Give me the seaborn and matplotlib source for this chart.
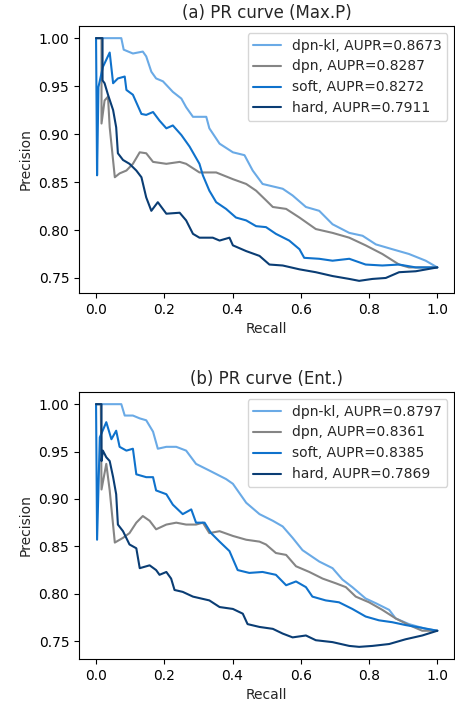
import pandas as pd
import matplotlib
matplotlib.use("Agg")
import matplotlib.pyplot as plt
import seaborn as sns

sns.set_style("ticks")
plt.rcParams["font.family"] = ["DejaVu Sans"]

models = ["dpn-kl", "dpn", "soft", "hard"]
colors = ["#6aaae6", "#858585", "#0f72cc", "#0a3d74"]

aupr_maxp = [0.8673, 0.8287, 0.8272, 0.7911]
aupr_ent = [0.8797, 0.8361, 0.8385, 0.7869]

# (a) Max.P
maxp_kl_r = [0, 0.074, 0.081, 0.108, 0.137, 0.147, 0.162, 0.176, 0.196, 0.225, 0.250, 0.264, 0.284, 0.323,
             0.332, 0.362, 0.401, 0.435, 0.459, 0.488, 0.547, 0.576, 0.615, 0.654, 0.693, 0.742, 0.781,
             0.820, 0.868, 0.917, 0.966, 1.0]
maxp_kl_p = [1.0, 1.0, 0.988, 0.984, 0.986, 0.981, 0.965, 0.958, 0.955, 0.944, 0.937, 0.928, 0.918, 0.918,
             0.906, 0.890, 0.881, 0.878, 0.862, 0.848, 0.843, 0.836, 0.824, 0.820, 0.806, 0.797, 0.794,
             0.785, 0.780, 0.775, 0.768, 0.761]

maxp_dpn_r = [0, 0.016, 0.016, 0.025, 0.035, 0.040, 0.055, 0.069, 0.089, 0.108, 0.128, 0.147, 0.167, 0.206,
              0.245, 0.264, 0.303, 0.352, 0.401, 0.440, 0.469, 0.498, 0.518, 0.557, 0.596, 0.644, 0.693,
              0.742, 0.790, 0.839, 0.888, 0.917, 1.0]
maxp_dpn_p = [1.0, 1.0, 0.911, 0.935, 0.939, 0.907, 0.855, 0.859, 0.862, 0.869, 0.881, 0.880, 0.871, 0.869,
              0.871, 0.869, 0.860, 0.860, 0.853, 0.848, 0.841, 0.831, 0.824, 0.822, 0.813, 0.801, 0.797,
              0.792, 0.784, 0.775, 0.764, 0.761, 0.761]

maxp_soft_r = [0, 0.003, 0.007, 0.020, 0.040, 0.050, 0.064, 0.084, 0.089, 0.108, 0.133, 0.147, 0.167, 0.186,
               0.206, 0.225, 0.250, 0.274, 0.303, 0.313, 0.332, 0.352, 0.381, 0.410, 0.440, 0.469, 0.498,
               0.527, 0.566, 0.596, 0.610, 0.654, 0.693, 0.742, 0.790, 0.839, 0.888, 0.937, 1.0]
maxp_soft_p = [1.0, 0.857, 0.949, 0.970, 0.985, 0.953, 0.958, 0.960, 0.946, 0.941, 0.921, 0.920, 0.923, 0.914,
               0.906, 0.909, 0.899, 0.887, 0.869, 0.857, 0.841, 0.829, 0.822, 0.813, 0.810, 0.804, 0.803,
               0.796, 0.789, 0.780, 0.771, 0.770, 0.768, 0.770, 0.764, 0.763, 0.764, 0.761, 0.761]

maxp_hard_r = [0, 0.019, 0.019, 0.025, 0.035, 0.050, 0.059, 0.064, 0.079, 0.098, 0.118, 0.133, 0.147, 0.162,
               0.181, 0.206, 0.245, 0.264, 0.284, 0.303, 0.342, 0.362, 0.391, 0.401, 0.440, 0.479, 0.508,
               0.547, 0.596, 0.644, 0.693, 0.742, 0.771, 0.810, 0.849, 0.888, 0.937, 1.0]
maxp_hard_p = [1.0, 1.0, 0.956, 0.953, 0.941, 0.925, 0.907, 0.880, 0.873, 0.869, 0.862, 0.855, 0.834, 0.820,
               0.829, 0.817, 0.818, 0.810, 0.796, 0.792, 0.792, 0.789, 0.792, 0.784, 0.778, 0.773, 0.764,
               0.763, 0.759, 0.756, 0.752, 0.749, 0.747, 0.749, 0.750, 0.756, 0.757, 0.761]

# (b) Ent.
ent_kl_r = [0, 0.074, 0.084, 0.108, 0.128, 0.147, 0.167, 0.181, 0.206, 0.235, 0.264, 0.293, 0.332, 0.381,
            0.401, 0.440, 0.479, 0.518, 0.547, 0.576, 0.605, 0.654, 0.693, 0.722, 0.751, 0.790, 0.820,
            0.859, 0.878, 0.917, 0.966, 1.0]
ent_kl_p = [1.0, 1.0, 0.988, 0.988, 0.985, 0.983, 0.971, 0.953, 0.955, 0.955, 0.951, 0.937, 0.930, 0.921,
            0.916, 0.896, 0.884, 0.877, 0.871, 0.859, 0.846, 0.834, 0.827, 0.815, 0.807, 0.795, 0.790,
            0.783, 0.774, 0.768, 0.763, 0.761]

ent_dpn_r = [0, 0.014, 0.016, 0.030, 0.040, 0.055, 0.079, 0.098, 0.118, 0.137, 0.157, 0.176, 0.206, 0.235,
             0.264, 0.293, 0.313, 0.332, 0.362, 0.401, 0.440, 0.479, 0.498, 0.527, 0.557, 0.586, 0.625,
             0.664, 0.703, 0.732, 0.761, 0.800, 0.839, 0.878, 0.917, 0.956, 1.0]
ent_dpn_p = [1.0, 1.0, 0.910, 0.937, 0.909, 0.854, 0.859, 0.864, 0.875, 0.882, 0.877, 0.868, 0.873, 0.875,
             0.873, 0.873, 0.875, 0.864, 0.866, 0.861, 0.857, 0.855, 0.852, 0.843, 0.841, 0.829, 0.823,
             0.816, 0.811, 0.807, 0.797, 0.791, 0.783, 0.774, 0.767, 0.761, 0.761]

ent_soft_r = [0, 0.003, 0.011, 0.030, 0.045, 0.059, 0.069, 0.089, 0.108, 0.118, 0.147, 0.167, 0.176, 0.206,
              0.225, 0.254, 0.279, 0.293, 0.318, 0.337, 0.362, 0.391, 0.415, 0.449, 0.488, 0.527, 0.557,
              0.586, 0.615, 0.634, 0.673, 0.712, 0.751, 0.790, 0.829, 0.868, 0.907, 0.956, 1.0]
ent_soft_p = [1.0, 0.857, 0.965, 0.981, 0.963, 0.972, 0.955, 0.951, 0.953, 0.926, 0.923, 0.923, 0.909, 0.905,
              0.894, 0.884, 0.889, 0.875, 0.875, 0.864, 0.855, 0.845, 0.825, 0.822, 0.823, 0.820, 0.809,
              0.813, 0.807, 0.797, 0.793, 0.791, 0.784, 0.776, 0.772, 0.770, 0.767, 0.764, 0.761]

ent_hard_r = [0, 0.016, 0.016, 0.020, 0.030, 0.040, 0.050, 0.059, 0.064, 0.079, 0.098, 0.118, 0.128, 0.157,
              0.176, 0.186, 0.206, 0.220, 0.230, 0.254, 0.284, 0.332, 0.362, 0.401, 0.430, 0.444, 0.479,
              0.518, 0.547, 0.576, 0.615, 0.644, 0.693, 0.742, 0.771, 0.810, 0.859, 0.907, 0.956, 1.0]
ent_hard_p = [1.0, 1.0, 0.940, 0.951, 0.944, 0.940, 0.923, 0.905, 0.873, 0.866, 0.852, 0.848, 0.827, 0.830,
              0.825, 0.820, 0.823, 0.816, 0.804, 0.802, 0.797, 0.793, 0.786, 0.784, 0.779, 0.768, 0.765,
              0.763, 0.758, 0.754, 0.756, 0.751, 0.749, 0.745, 0.744, 0.745, 0.747, 0.752, 0.756, 0.761]


def make_frame(curves, aupr):
    rows = []
    for name, score, (r, p) in zip(models, aupr, curves):
        label = f"{name}, AUPR={score:.4f}"
        rows.append(pd.DataFrame({"Recall": r, "Precision": p, "model": label}))
    return pd.concat(rows, ignore_index=True)


df_maxp = make_frame([(maxp_kl_r, maxp_kl_p), (maxp_dpn_r, maxp_dpn_p),
                      (maxp_soft_r, maxp_soft_p), (maxp_hard_r, maxp_hard_p)], aupr_maxp)
df_ent = make_frame([(ent_kl_r, ent_kl_p), (ent_dpn_r, ent_dpn_p),
                     (ent_soft_r, ent_soft_p), (ent_hard_r, ent_hard_p)], aupr_ent)

fig = plt.figure(figsize=(4.55, 7.07), dpi=100)
ax1 = fig.add_axes([0.1736, 0.5856, 0.825, 0.3776])
ax2 = fig.add_axes([0.1736, 0.0679, 0.825, 0.3776])

for ax, df, title in [(ax1, df_maxp, "(a) PR curve (Max.P)"), (ax2, df_ent, "(b) PR curve (Ent.)")]:
    sns.lineplot(data=df, x="Recall", y="Precision", hue="model", palette=colors,
                 estimator=None, sort=False, linewidth=1.5, ax=ax)
    ax.set_title(title, fontsize=12)
    ax.set_xlabel("Recall", fontsize=10)
    ax.set_ylabel("Precision", fontsize=10)
    ax.set_xticks([0.0, 0.2, 0.4, 0.6, 0.8, 1.0])
    ax.set_yticks([0.75, 0.80, 0.85, 0.90, 0.95, 1.00])
    ax.tick_params(labelsize=10, colors="black")
    for s in ax.spines.values():
        s.set_color("black")
        s.set_linewidth(0.8)
    ax.legend(loc="upper right", fontsize=10, title=None, framealpha=0.8)

plt.savefig("out.png", dpi=100)
